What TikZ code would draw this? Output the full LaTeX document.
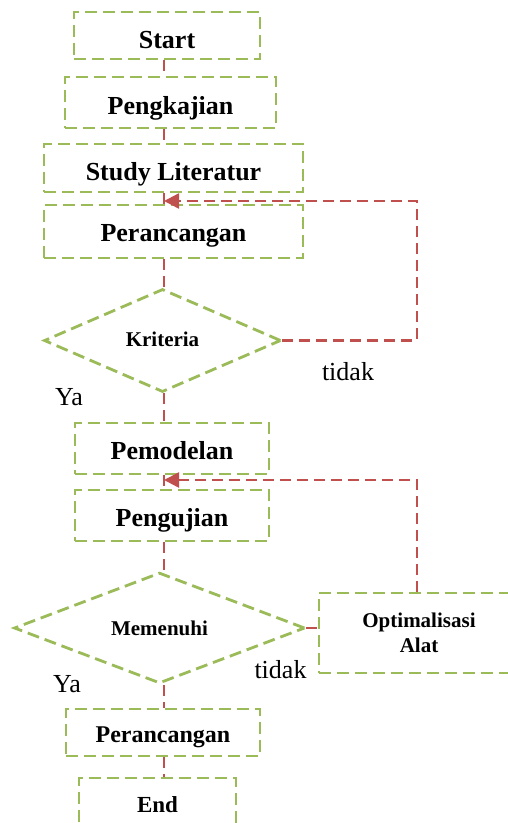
\documentclass[tikz,border=0pt]{standalone}
\usepackage{fontspec}
\setmainfont{Liberation Serif}
\usetikzlibrary{shapes.geometric,arrows.meta}
\definecolor{boxgreen}{HTML}{9BBB59}
\definecolor{linered}{HTML}{C0504D}
\tikzset{
  stepbox/.style={draw=boxgreen, line width=2.8pt, dash pattern=on 12pt off 6pt, rectangle, inner sep=0pt, font=\bfseries\fontsize{26}{30}\selectfont, text=black, text height=23pt, text depth=0pt},
  decbox/.style={draw=boxgreen, line width=2.8pt, dash pattern=on 12pt off 6pt, diamond, inner sep=0pt, font=\bfseries\fontsize{21}{25}\selectfont, text=black, text height=13pt, text depth=0pt},
  conn/.style={draw=linered, line width=2.4pt, dash pattern=on 11pt off 6pt},
  fbarrow/.style={conn, -{Triangle[length=15pt,width=15pt]}},
  lbl/.style={font=\fontsize{26}{30}\selectfont, text=black, inner sep=0pt}
}
\begin{document}
\begin{tikzpicture}[x=1pt,y=1pt]
\useasboundingbox (0,0) rectangle (508,-823);
% boxes
\node[stepbox, minimum width=186pt, minimum height=47pt, text height=26pt] (start) at (167,-35.5) {Start};
\node[stepbox, minimum width=211pt, minimum height=51pt] (kaji) at (170.5,-102.5) {Pengkajian};
\node[stepbox, minimum width=259pt, minimum height=48pt, text height=24pt] (study) at (173.5,-168) {Study Literatur};
\node[stepbox, minimum width=259pt, minimum height=53pt, text height=20pt] (ranc1) at (173.5,-231.5) {Perancangan};
\node[decbox, minimum width=237pt, minimum height=103pt, text height=12pt] (krit) at (162.5,-340.5) {Kriteria};
\node[stepbox, minimum width=194pt, minimum height=51pt, text height=21pt] (model) at (172,-448.5) {Pemodelan};
\node[stepbox, minimum width=194pt, minimum height=51pt, text height=22pt] (uji) at (172,-515.5) {Pengujian};
\node[decbox, minimum width=291pt, minimum height=102pt, text height=14pt] (memen) at (159.5,-628) {Memenuhi};
\node[stepbox, minimum width=200pt, minimum height=80pt, align=center, text height=, text depth=, font=\bfseries\fontsize{21}{25}\selectfont] (opt) at (419,-633) {Optimalisasi\\Alat};
\node[stepbox, minimum width=194pt, minimum height=47pt, text height=20pt, font=\bfseries\fontsize{24}{28}\selectfont] (ranc2) at (163,-732.5) {Perancangan};
\node[stepbox, minimum width=157pt, minimum height=50pt, text height=18pt, font=\bfseries\fontsize{23}{27}\selectfont] (end) at (157.5,-803) {End};
% labels
\node[lbl] (t1) at (348,-372) {tidak};
\node[lbl] (y1) at (69,-397) {Ya};
\node[lbl] (t2) at (280.5,-670) {tidak};
\node[lbl] (y2) at (67,-684) {Ya};
% helper coordinates
\coordinate (axis) at (164,0);
\coordinate (fb1) at (164,-201);
\coordinate (r1) at (417,-340.5);
\coordinate (fb2) at (164,-480);
% main flow
\draw[conn] (start.south -| axis) -- (kaji.north -| axis);
\draw[conn] (kaji.south -| axis) -- (study.north -| axis);
\draw[conn] (study.south -| axis) -- (ranc1.north -| axis);
\draw[conn] (ranc1.south -| axis) -- (krit.north -| axis);
\draw[conn] (krit.south -| axis) -- (model.north -| axis);
\draw[conn] (model.south -| axis) -- (uji.north -| axis);
\draw[conn] (uji.south -| axis) -- (memen.north -| axis);
\draw[conn] (memen.south -| axis) -- (ranc2.north -| axis);
\draw[conn] (ranc2.south -| axis) -- (end.north -| axis);
% feedback loops
\draw[fbarrow] (krit.east) -- (r1) |- (fb1);
\draw[conn] (memen.east) -- (memen.east -| opt.west);
\draw[fbarrow] (opt.north -| r1) |- (fb2);
\end{tikzpicture}
\end{document}
